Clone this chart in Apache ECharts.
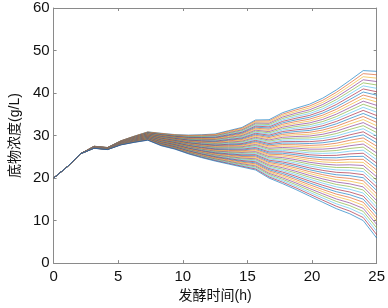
<!DOCTYPE html>
<html>
<head>
<meta charset="utf-8">
<script src="https://cdn.jsdelivr.net/npm/echarts@6/dist/echarts.min.js"></script>
<style>
    html, body { margin: 0; padding: 0; background: #fff; }
    #main { width: 388px; height: 308px; }
</style>
</head>
<body>
<div id="main"></div>
<script>
// 采样时间 (h)
const hours = [0, 1.04, 2.08, 3.13, 4.17, 5.21, 6.25, 7.29, 8.33, 9.38, 10.42, 11.46, 12.5,
    13.54, 14.58, 15.63, 16.67, 17.71, 18.75, 19.79, 20.83, 21.88, 22.92, 23.96, 25];

// 每个采样时刻 50 条模拟曲线的底物浓度 (g/L)，从低到高
const substrate = [
    // t = 0
    [20,20,20,20,20,20,20,20,20,20, 20,20,20,20,20,20,20,20,20,20,
     20,20,20,20,20,20,20,20,20,20, 20,20,20,20,20,20,20,20,20,20,
     20,20,20,20,20,20,20,20,20,20],
    // t = 1.04
    [22.6,22.6,22.6,22.6,22.6,22.6,22.6,22.6,22.6,22.6, 22.6,22.6,22.6,22.6,22.6,22.6,22.6,22.6,22.6,22.6,
     22.6,22.6,22.6,22.6,22.6,22.6,22.6,22.6,22.6,22.6, 22.6,22.6,22.6,22.6,22.6,22.6,22.6,22.6,22.6,22.6,
     22.6,22.6,22.6,22.6,22.6,22.6,22.6,22.6,22.6,22.6],
    // t = 2.08
    [25.7,25.7,25.7,25.7,25.7,25.7,25.7,25.7,25.7,25.7, 25.7,25.7,25.7,25.7,25.7,25.7,25.7,25.7,25.7,25.7,
     25.7,25.7,25.7,25.7,25.7,25.7,25.7,25.7,25.7,25.7, 25.7,25.7,25.7,25.7,25.7,25.7,25.7,25.7,25.7,25.7,
     25.7,25.7,25.7,25.7,25.7,25.7,25.7,25.7,25.7,25.7],
    // t = 3.13
    [27,27.01,27.02,27.03,27.04,27.05,27.06,27.07,27.08,27.09,
     27.1,27.11,27.12,27.13,27.14,27.15,27.16,27.17,27.18,27.19,
     27.2,27.21,27.22,27.23,27.24,27.25,27.26,27.27,27.28,27.29,
     27.3,27.31,27.32,27.33,27.34,27.35,27.36,27.37,27.38,27.39,
     27.4,27.41,27.42,27.43,27.44,27.45,27.46,27.47,27.48,27.49],
    // t = 4.17
    [26.7,26.71,26.72,26.73,26.74,26.75,26.76,26.77,26.78,26.79,
     26.8,26.81,26.82,26.83,26.84,26.85,26.86,26.87,26.88,26.89,
     26.9,26.91,26.92,26.93,26.94,26.95,26.96,26.97,26.98,26.99,
     27,27.01,27.02,27.03,27.04,27.05,27.06,27.07,27.08,27.09,
     27.1,27.11,27.12,27.13,27.14,27.15,27.16,27.17,27.18,27.19],
    // t = 5.21
    [27.8,27.82,27.84,27.86,27.88,27.9,27.92,27.94,27.96,27.98,
     28,28.02,28.04,28.06,28.08,28.1,28.12,28.14,28.16,28.18,
     28.2,28.22,28.24,28.26,28.28,28.3,28.32,28.34,28.36,28.38,
     28.4,28.42,28.44,28.46,28.48,28.5,28.52,28.54,28.56,28.58,
     28.6,28.62,28.64,28.66,28.68,28.7,28.72,28.74,28.76,28.78],
    // t = 6.25
    [28.4,28.43,28.46,28.49,28.52,28.55,28.58,28.61,28.64,28.67,
     28.7,28.73,28.76,28.79,28.82,28.85,28.88,28.91,28.94,28.97,
     29,29.03,29.06,29.09,29.12,29.15,29.18,29.21,29.24,29.27,
     29.3,29.33,29.36,29.39,29.42,29.45,29.48,29.51,29.54,29.57,
     29.6,29.63,29.66,29.69,29.72,29.75,29.78,29.81,29.84,29.87],
    // t = 7.29
    [28.9,28.94,28.98,29.02,29.06,29.1,29.14,29.18,29.22,29.26,
     29.3,29.34,29.38,29.42,29.46,29.5,29.54,29.58,29.62,29.66,
     29.7,29.74,29.78,29.82,29.86,29.9,29.94,29.98,30.02,30.06,
     30.1,30.14,30.18,30.22,30.26,30.3,30.34,30.38,30.42,30.46,
     30.5,30.54,30.58,30.62,30.66,30.7,30.74,30.78,30.82,30.86],
    // t = 8.33
    [27.6,27.66,27.72,27.78,27.84,27.9,27.96,28.02,28.08,28.14,
     28.2,28.26,28.32,28.38,28.44,28.5,28.56,28.62,28.68,28.74,
     28.8,28.86,28.92,28.98,29.04,29.1,29.16,29.22,29.28,29.34,
     29.4,29.46,29.52,29.58,29.64,29.7,29.76,29.82,29.88,29.94,
     30,30.06,30.12,30.18,30.24,30.3,30.36,30.42,30.48,30.54],
    // t = 9.38
    [26.8,26.87,26.94,27.01,27.08,27.15,27.22,27.29,27.36,27.43,
     27.5,27.57,27.64,27.71,27.78,27.85,27.92,27.99,28.06,28.13,
     28.2,28.27,28.34,28.41,28.48,28.55,28.62,28.69,28.76,28.83,
     28.9,28.97,29.04,29.11,29.18,29.25,29.32,29.39,29.46,29.53,
     29.6,29.67,29.74,29.81,29.88,29.95,30.02,30.09,30.16,30.23],
    // t = 10.42
    [25.7,25.79,25.88,25.97,26.06,26.15,26.24,26.33,26.42,26.51,
     26.6,26.69,26.78,26.87,26.96,27.05,27.14,27.23,27.32,27.41,
     27.5,27.59,27.68,27.77,27.86,27.95,28.04,28.13,28.22,28.31,
     28.4,28.49,28.58,28.67,28.76,28.85,28.94,29.03,29.12,29.21,
     29.3,29.39,29.48,29.57,29.66,29.75,29.84,29.93,30.02,30.11],
    // t = 11.46
    [24.8,24.91,25.02,25.13,25.24,25.35,25.46,25.57,25.68,25.79,
     25.9,26.01,26.12,26.23,26.34,26.45,26.56,26.67,26.78,26.89,
     27,27.11,27.22,27.33,27.44,27.55,27.66,27.77,27.88,27.99,
     28.1,28.21,28.32,28.43,28.54,28.65,28.76,28.87,28.98,29.09,
     29.2,29.31,29.42,29.53,29.64,29.75,29.86,29.97,30.08,30.19],
    // t = 12.5
    [24,24.13,24.26,24.39,24.52,24.65,24.78,24.91,25.04,25.17,
     25.3,25.43,25.56,25.69,25.82,25.95,26.08,26.21,26.34,26.47,
     26.6,26.73,26.86,26.99,27.12,27.25,27.38,27.51,27.64,27.77,
     27.9,28.03,28.16,28.29,28.42,28.55,28.68,28.81,28.94,29.07,
     29.2,29.33,29.46,29.59,29.72,29.85,29.98,30.11,30.24,30.37],
    // t = 13.54
    [23.3,23.46,23.62,23.78,23.94,24.1,24.26,24.42,24.58,24.74,
     24.9,25.06,25.22,25.38,25.54,25.7,25.86,26.02,26.18,26.34,
     26.5,26.66,26.82,26.98,27.14,27.3,27.46,27.62,27.78,27.94,
     28.1,28.26,28.42,28.58,28.74,28.9,29.06,29.22,29.38,29.54,
     29.7,29.86,30.02,30.18,30.34,30.5,30.66,30.82,30.98,31.14],
    // t = 14.58
    [22.6,22.79,22.98,23.17,23.36,23.55,23.74,23.93,24.12,24.31,
     24.5,24.69,24.88,25.07,25.26,25.45,25.64,25.83,26.02,26.21,
     26.4,26.59,26.78,26.97,27.16,27.35,27.54,27.73,27.92,28.11,
     28.3,28.49,28.68,28.87,29.06,29.25,29.44,29.63,29.82,30.01,
     30.2,30.39,30.58,30.77,30.96,31.15,31.34,31.53,31.72,31.91],
    // t = 15.63
    [21.9,22.14,22.38,22.62,22.86,23.1,23.34,23.58,23.82,24.06,
     24.3,24.54,24.78,25.02,25.26,25.5,25.74,25.98,26.22,26.46,
     26.7,26.94,27.18,27.42,27.66,27.9,28.14,28.38,28.62,28.86,
     29.1,29.34,29.58,29.82,30.06,30.3,30.54,30.78,31.02,31.26,
     31.5,31.74,31.98,32.22,32.46,32.7,32.94,33.18,33.42,33.66],
    // t = 16.67
    [20,20.28,20.56,20.84,21.12,21.4,21.68,21.96,22.24,22.52,
     22.8,23.08,23.36,23.64,23.92,24.2,24.48,24.76,25.04,25.32,
     25.6,25.88,26.16,26.44,26.72,27,27.28,27.56,27.84,28.12,
     28.4,28.68,28.96,29.24,29.52,29.8,30.08,30.36,30.64,30.92,
     31.2,31.48,31.76,32.04,32.32,32.6,32.88,33.16,33.44,33.72],
    // t = 17.71
    [18.7,19.04,19.38,19.72,20.06,20.4,20.74,21.08,21.42,21.76,
     22.1,22.44,22.78,23.12,23.46,23.8,24.14,24.48,24.82,25.16,
     25.5,25.84,26.18,26.52,26.86,27.2,27.54,27.88,28.22,28.56,
     28.9,29.24,29.58,29.92,30.26,30.6,30.94,31.28,31.62,31.96,
     32.3,32.64,32.98,33.32,33.66,34,34.34,34.68,35.02,35.36],
    // t = 18.75
    [17.3,17.69,18.08,18.47,18.86,19.25,19.64,20.03,20.42,20.81,
     21.2,21.59,21.98,22.37,22.76,23.15,23.54,23.93,24.32,24.71,
     25.1,25.49,25.88,26.27,26.66,27.05,27.44,27.83,28.22,28.61,
     29,29.39,29.78,30.17,30.56,30.95,31.34,31.73,32.12,32.51,
     32.9,33.29,33.68,34.07,34.46,34.85,35.24,35.63,36.02,36.41],
    // t = 19.79
    [15.8,16.24,16.68,17.12,17.56,18,18.44,18.88,19.32,19.76,
     20.2,20.64,21.08,21.52,21.96,22.4,22.84,23.28,23.72,24.16,
     24.6,25.04,25.48,25.92,26.36,26.8,27.24,27.68,28.12,28.56,
     29,29.44,29.88,30.32,30.76,31.2,31.64,32.08,32.52,32.96,
     33.4,33.84,34.28,34.72,35.16,35.6,36.04,36.48,36.92,37.36],
    // t = 20.83
    [14.3,14.8,15.3,15.8,16.3,16.8,17.3,17.8,18.3,18.8,
     19.3,19.8,20.3,20.8,21.3,21.8,22.3,22.8,23.3,23.8,
     24.3,24.8,25.3,25.8,26.3,26.8,27.3,27.8,28.3,28.8,
     29.3,29.8,30.3,30.8,31.3,31.8,32.3,32.8,33.3,33.8,
     34.3,34.8,35.3,35.8,36.3,36.8,37.3,37.8,38.3,38.8],
    // t = 21.88
    [12.8,13.37,13.94,14.51,15.08,15.65,16.22,16.79,17.36,17.93,
     18.5,19.07,19.64,20.21,20.78,21.35,21.92,22.49,23.06,23.63,
     24.2,24.77,25.34,25.91,26.48,27.05,27.62,28.19,28.76,29.33,
     29.9,30.47,31.04,31.61,32.18,32.75,33.32,33.89,34.46,35.03,
     35.6,36.17,36.74,37.31,37.88,38.45,39.02,39.59,40.16,40.73],
    // t = 22.92
    [11.6,12.24,12.88,13.52,14.16,14.8,15.44,16.08,16.72,17.36,
     18,18.64,19.28,19.92,20.56,21.2,21.84,22.48,23.12,23.76,
     24.4,25.04,25.68,26.32,26.96,27.6,28.24,28.88,29.52,30.16,
     30.8,31.44,32.08,32.72,33.36,34,34.64,35.28,35.92,36.56,
     37.2,37.84,38.48,39.12,39.76,40.4,41.04,41.68,42.32,42.96],
    // t = 23.96
    [10,10.72,11.44,12.16,12.88,13.6,14.32,15.04,15.76,16.48,
     17.2,17.92,18.64,19.36,20.08,20.8,21.52,22.24,22.96,23.68,
     24.4,25.12,25.84,26.56,27.28,28,28.72,29.44,30.16,30.88,
     31.6,32.32,33.04,33.76,34.48,35.2,35.92,36.64,37.36,38.08,
     38.8,39.52,40.24,40.96,41.68,42.4,43.12,43.84,44.56,45.28],
    // t = 25
    [5.9,6.7,7.5,8.3,9.1,9.9,10.7,11.5,12.3,13.1,
     13.9,14.7,15.5,16.3,17.1,17.9,18.7,19.5,20.3,21.1,
     21.9,22.7,23.5,24.3,25.1,25.9,26.7,27.5,28.3,29.1,
     29.9,30.7,31.5,32.3,33.1,33.9,34.7,35.5,36.3,37.1,
     37.9,38.7,39.5,40.3,41.1,41.9,42.7,43.5,44.3,45.1]
];

// 坐标轴刻度
const xTicks = { min: 0, max: 25, interval: 5 };
const yTicks = { min: 0, max: 60, interval: 10 };

// MATLAB 默认配色
const lineColors = ['#0072BD', '#D95319', '#EDB120', '#7E2F8E', '#77AC30', '#4DBEEE', '#A2142F'];

document.addEventListener('DOMContentLoaded', function() {
    initSubstrateChart();
});

function initSubstrateChart() {
    const chart = echarts.init(document.getElementById('main'));
    const runCount = substrate[0].length;

    // 最上面那条曲线先画（与 MATLAB 的绘制顺序一致）
    const series = [];
    for (let j = runCount - 1; j >= 0; j--) {
        series.push({
            type: 'line',
            symbol: 'none',
            silent: true,
            lineStyle: { width: 0.9, opacity: 0.7 },
            data: hours.map((t, k) => [t, substrate[k][j]])
        });
    }

    const axisLine = { show: true, onZero: false, lineStyle: { color: '#8a8a8a', width: 1 } };
    const tickIn = { show: true, inside: true, length: 3, lineStyle: { color: '#8a8a8a' } };
    const labelFont = { color: '#111', fontSize: 15, fontFamily: 'Liberation Sans, Arial, sans-serif' };
    const nameFont = { color: '#111', fontSize: 14, fontFamily: 'Liberation Sans, Noto Sans CJK SC, sans-serif' };

    const option = {
        animation: false,
        color: lineColors,
        grid: { left: 46.5, right: 8, top: 8, bottom: 37 },
        xAxis: [{
            type: 'value',
            min: xTicks.min, max: xTicks.max, interval: xTicks.interval,
            name: '发酵时间(h)',
            nameLocation: 'middle',
            nameGap: 20,
            nameTextStyle: nameFont,
            axisLine: axisLine,
            axisTick: tickIn,
            axisLabel: Object.assign({ margin: 6 }, labelFont),
            splitLine: { show: false }
        }, {
            type: 'value', position: 'top',
            min: xTicks.min, max: xTicks.max, interval: xTicks.interval,
            axisLine: axisLine,
            axisTick: tickIn,
            axisLabel: { show: false },
            splitLine: { show: false }
        }],
        yAxis: [{
            type: 'value',
            min: yTicks.min, max: yTicks.max, interval: yTicks.interval,
            name: '底物浓度(g/L)',
            nameLocation: 'middle',
            nameGap: 29,
            nameTextStyle: nameFont,
            axisLine: axisLine,
            axisTick: tickIn,
            axisLabel: Object.assign({ margin: 4 }, labelFont),
            splitLine: { show: false }
        }, {
            type: 'value', position: 'right',
            min: yTicks.min, max: yTicks.max, interval: yTicks.interval,
            axisLine: axisLine,
            axisTick: tickIn,
            axisLabel: { show: false },
            splitLine: { show: false }
        }],
        series: series
    };

    chart.setOption(option);
}
</script>
</body>
</html>
